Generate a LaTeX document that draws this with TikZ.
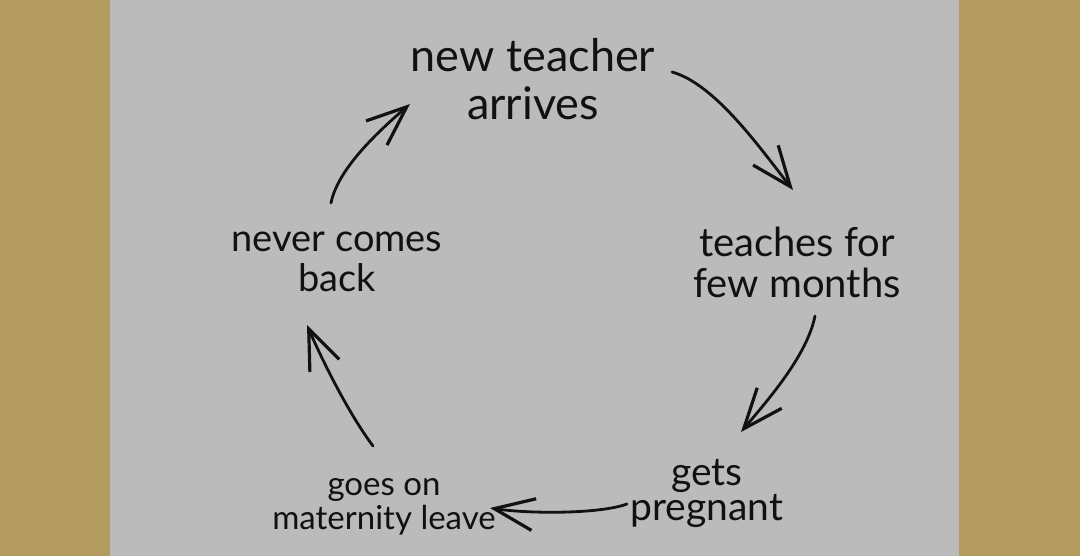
\documentclass[tikz,border=0pt]{standalone}
\usepackage{fontspec}
\setmainfont{Lato}
\usetikzlibrary{arrows.meta}
\definecolor{gold}{RGB}{180,156,96}
\definecolor{bggray}{RGB}{187,187,187}
\definecolor{ink}{RGB}{17,17,17}
\tikzset{
  lbl/.style={align=center, text=ink, inner sep=0pt, anchor=base},
  cyc/.style={draw=ink, line width=2.8pt, line cap=round,
    -{Straight Barb[length=40pt,width=32pt,line width=3.2pt]}}
}
\begin{document}
\begin{tikzpicture}[x=1pt,y=-1pt]
\fill[gold] (0,0) rectangle (1080,556);
\fill[bggray] (110,0) rectangle (959,556);
\useasboundingbox (0,0) rectangle (1080,556);

\node[lbl, font=\fontsize{45}{48}\selectfont] (n1) at (533,120) {new teacher\\arrives};
\node[lbl, font=\fontsize{40}{41}\selectfont] (n2) at (797,298) {teaches for\\few months};
\node[lbl, font=\fontsize{39}{32}\selectfont] (n3) at (707,520) {gets\\pregnant};
\node[lbl, font=\fontsize{33}{34}\selectfont] (n4) at (384,529) {goes on\\maternity leave};
\node[lbl, font=\fontsize{38}{40}\selectfont] (n5) at (337,292) {never comes\\back};

\coordinate (a1s) at (672,72);  \coordinate (a1e) at (793,190);
\coordinate (a2s) at (815,316); \coordinate (a2e) at (741,432);
\coordinate (a3s) at (627,504); \coordinate (a3e) at (490,508);
\coordinate (a4s) at (373,446); \coordinate (a4e) at (307,325);
\coordinate (a5s) at (331,203); \coordinate (a5e) at (410,104);

\draw[cyc] (a1s) .. controls (715,84) and (760,148) .. (a1e);
\draw[cyc] (a2s) .. controls (807,356) and (767,401) .. (a2e);
\draw[cyc] (a3s) .. controls (600,514) and (530,514) .. (a3e);
\draw[cyc] (a4s) .. controls (349,414) and (323,362) .. (a4e);
\draw[cyc] (a5s) .. controls (338,168) and (380,130) .. (a5e);
\end{tikzpicture}
\end{document}
